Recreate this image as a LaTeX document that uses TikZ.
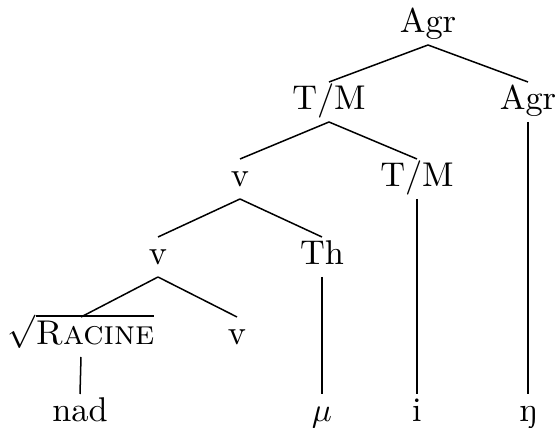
\documentclass[tikz,border=0pt]{standalone}
\usepackage{fontspec}
\usetikzlibrary{calc}
\begin{document}
\begin{tikzpicture}[x=0.3pt,y=-0.3pt,
  lbl/.style={anchor=base,inner sep=0pt,font=\fontsize{10.3}{12.5}\selectfont},
  edge/.style={line width=0.45pt}]
\useasboundingbox (0,0) rectangle (556,428);
\node[lbl] (agr0) at (428,33) {Agr};
\node[lbl] (tm1) at (329,110) {T/M};
\node[lbl] (agr1) at (528,110) {Agr};
\node[lbl] (v2) at (240,187) {v};
\node[lbl] (tm2) at (417,187) {T/M};
\node[lbl] (v3) at (158,265) {v};
\node[lbl] (th) at (322,265) {Th};
\node[lbl] (rac) at (81,345) {$\sqrt{\mbox{\textsc{Racine}}}$};
\node[lbl] (v4) at (237,345) {v};
\node[lbl] (nad) at (80,422) {nad};
\node[lbl] (mu) at (322,422) {$\mu$};
\node[lbl] (i) at (417,422) {i};
\node[lbl] (eng) at (528,422) {ŋ};
\foreach \a/\b in {agr0/tm1,agr0/agr1,tm1/v2,tm1/tm2,v2/v3,v2/th,v3/rac,v3/v4,
  rac/nad,th/mu,tm2/i,agr1/eng}
  \draw[edge] ($(\a.base)+(0,12)$) -- ($(\b.base)+(0,-28)$);
\end{tikzpicture}
\end{document}
